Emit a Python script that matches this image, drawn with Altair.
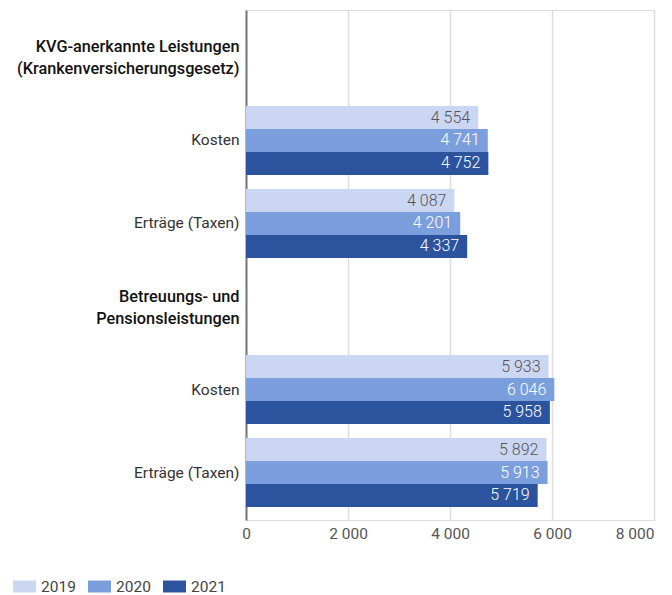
import altair as alt
import pandas as pd

# Rows of the chart: section headings and their sub-items
sections = [
    "KVG-anerkannte Leistungen\n(Krankenversicherungsgesetz)",
    "Betreuungs- und\nPensionsleistungen",
]
items = ["Kosten", "Erträge (Taxen)"]
years = ["2019", "2020", "2021"]

kvg_kosten = [4554, 4741, 4752]
kvg_ertraege = [4087, 4201, 4337]
bp_kosten = [5933, 6046, 5958]
bp_ertraege = [5892, 5913, 5719]

x_ticks = [0, 2000, 4000, 6000, 8000]
colors = ["#cbd6f3", "#7b9fdd", "#2c539e"]

# Row keys: "section" for headings, "section|item" for the bar rows
row_order = []
for s in sections:
    row_order.append(s)
    for it in items:
        row_order.append(s + "|" + it)

series = {
    (sections[0], items[0]): kvg_kosten,
    (sections[0], items[1]): kvg_ertraege,
    (sections[1], items[0]): bp_kosten,
    (sections[1], items[1]): bp_ertraege,
}

records = []
for (s, it), vals in series.items():
    for y, v in zip(years, vals):
        records.append({"row": s + "|" + it, "year": y, "value": v})
df = pd.DataFrame(records)

is_item = "indexof(datum.value, '|') >= 0"
label_expr = (
    f"{is_item} ? split(datum.value, '|')[1] : split(datum.value, '\\n')"
)

y_enc = alt.Y(
    "row:N",
    sort=row_order,
    scale=alt.Scale(domain=row_order, paddingInner=0.17, paddingOuter=0.157),
    axis=alt.Axis(
        title=None,
        labelExpr=label_expr,
        labelFontWeight=alt.ExprRef(f"{is_item} ? 'normal' : 500"),
        labelColor=alt.ExprRef(f"{is_item} ? '#333333' : '#111111'"),
        labelOffset=alt.ExprRef(f"{is_item} ? 0 : -10"),
        labelFontSize=alt.ExprRef(f"{is_item} ? 15.5 : 16.3"),
        labelFont="Roboto",
        labelLineHeight=22,
        labelPadding=7,
        labelLimit=260,
        ticks=False,
        domainColor="#777777",
        domainWidth=2,
        grid=False,
    ),
)
yoff_enc = alt.YOffset(
    "year:N", sort=years, scale=alt.Scale(paddingInner=0, paddingOuter=0)
)

x_enc = alt.X(
    "value:Q",
    scale=alt.Scale(domain=[0, 8000], nice=False),
    axis=alt.Axis(
        title=None,
        values=x_ticks,
        labelExpr="replace(datum.label, ',', ' ')",
        format=",d",
        labelFlush=False,
        labelAlign=alt.ExprRef("datum.value >= 8000 ? 'right' : 'center'"),
        labelFontSize=15.5,
        labelFont="Roboto",
        labelColor="#555555",
        labelPadding=6,
        ticks=False,
        domain=False,
        grid=True,
        gridColor="#dedede",
        gridWidth=1.5,
    ),
)

bars = alt.Chart(df).mark_bar(cornerRadius=0).encode(
    y=y_enc,
    yOffset=yoff_enc,
    x=x_enc,
    color=alt.Color(
        "year:N",
        sort=years,
        scale=alt.Scale(domain=years, range=colors),
        legend=alt.Legend(
            title=None,
            orient="none",
            direction="horizontal",
            legendX=-233,
            legendY=565,
            symbolType="M-1,-0.52L1,-0.52L1,0.52L-1,0.52Z",
            symbolSize=529,
            symbolStrokeWidth=0,
            symbolOpacity=1,
            labelFontSize=15.5,
            labelFont="Roboto",
            labelColor="#444444",
            labelOffset=5,
            columnPadding=12,
        ),
    ),
)

labels = (
    alt.Chart(df)
    .transform_calculate(txt="replace(format(datum.value, ',d'), ',', ' ')")
    .mark_text(align="right", baseline="middle", dx=-8, fontSize=16,
               font="Roboto", fontWeight=300)
    .encode(
        y=alt.Y("row:N", sort=row_order),
        yOffset=alt.YOffset("year:N", sort=years),
        x=alt.X("value:Q"),
        text="txt:N",
        color=alt.condition(
            alt.datum.year == "2019", alt.value("#555555"), alt.value("#ffffff")
        ),
    )
)

chart = (
    alt.layer(bars, labels)
    .properties(
        width=408,
        height=510,
        autosize=alt.AutoSizeParams(type="none"),
        padding={"left": 246, "top": 10, "right": 18, "bottom": 75},
    )
    .configure_view(stroke=None)
    .configure(font="Roboto")
)

chart.save("out.html", embed_options={"renderer": "svg", "actions": False})
